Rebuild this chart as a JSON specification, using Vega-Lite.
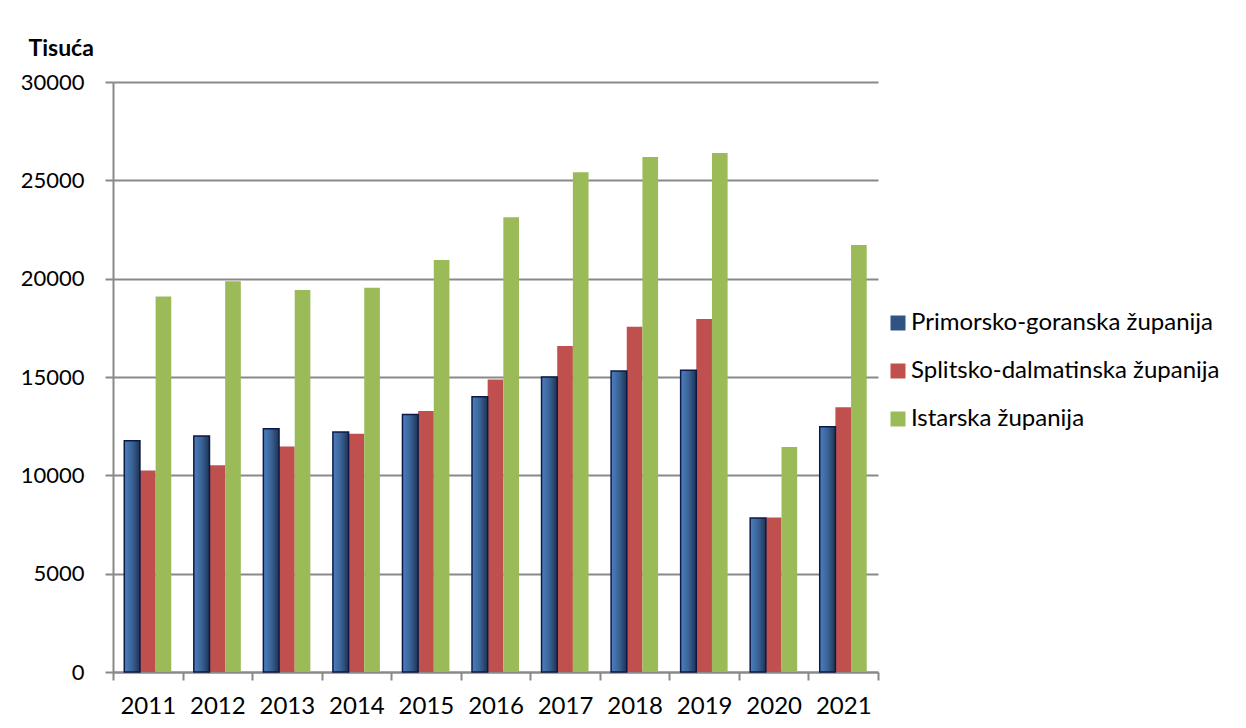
{
  "$schema": "https://vega.github.io/schema/vega-lite/v6.json",
  "autosize": {"type": "none"},
  "width": 765,
  "height": 590,
  "padding": {"left": 113, "top": 82, "right": 368, "bottom": 56},
  "background": "white",
  "config": {
    "view": {"stroke": null},
    "font": "Lato",
    "axis": {"labelFont": "Lato", "titleFont": "Lato", "labelColor": "black"}
  },
  "data": {
    "values": [
      {"year": "2011", "series": "Primorsko-goranska županija", "value": 11760},
      {"year": "2011", "series": "Splitsko-dalmatinska županija", "value": 10240},
      {"year": "2011", "series": "Istarska županija", "value": 19090},
      {"year": "2012", "series": "Primorsko-goranska županija", "value": 12000},
      {"year": "2012", "series": "Splitsko-dalmatinska županija", "value": 10510},
      {"year": "2012", "series": "Istarska županija", "value": 19870},
      {"year": "2013", "series": "Primorsko-goranska županija", "value": 12370},
      {"year": "2013", "series": "Splitsko-dalmatinska županija", "value": 11460},
      {"year": "2013", "series": "Istarska županija", "value": 19430},
      {"year": "2014", "series": "Primorsko-goranska županija", "value": 12200},
      {"year": "2014", "series": "Splitsko-dalmatinska županija", "value": 12120},
      {"year": "2014", "series": "Istarska županija", "value": 19540},
      {"year": "2015", "series": "Primorsko-goranska županija", "value": 13090},
      {"year": "2015", "series": "Splitsko-dalmatinska županija", "value": 13270},
      {"year": "2015", "series": "Istarska županija", "value": 20950},
      {"year": "2016", "series": "Primorsko-goranska županija", "value": 14000},
      {"year": "2016", "series": "Splitsko-dalmatinska županija", "value": 14870},
      {"year": "2016", "series": "Istarska županija", "value": 23120},
      {"year": "2017", "series": "Primorsko-goranska županija", "value": 15000},
      {"year": "2017", "series": "Splitsko-dalmatinska županija", "value": 16580},
      {"year": "2017", "series": "Istarska županija", "value": 25410},
      {"year": "2018", "series": "Primorsko-goranska županija", "value": 15300},
      {"year": "2018", "series": "Splitsko-dalmatinska županija", "value": 17560},
      {"year": "2018", "series": "Istarska županija", "value": 26190},
      {"year": "2019", "series": "Primorsko-goranska županija", "value": 15340},
      {"year": "2019", "series": "Splitsko-dalmatinska županija", "value": 17950},
      {"year": "2019", "series": "Istarska županija", "value": 26390},
      {"year": "2020", "series": "Primorsko-goranska županija", "value": 7830},
      {"year": "2020", "series": "Splitsko-dalmatinska županija", "value": 7850},
      {"year": "2020", "series": "Istarska županija", "value": 11440},
      {"year": "2021", "series": "Primorsko-goranska županija", "value": 12470},
      {"year": "2021", "series": "Splitsko-dalmatinska županija", "value": 13460},
      {"year": "2021", "series": "Istarska županija", "value": 21710}
    ]
  },
  "encoding": {
    "x": {
      "field": "year",
      "type": "nominal",
      "scale": {"paddingInner": 0, "paddingOuter": 0},
      "axis": {
        "title": null,
        "labelAngle": 0,
        "labelFontSize": 24,
        "labelPadding": 14,
        "tickBand": "extent",
        "tickSize": 8,
        "tickColor": "#898989",
        "tickWidth": 2,
        "domainColor": "#898989",
        "domainWidth": 2
      }
    },
    "xOffset": {
      "field": "series",
      "type": "nominal",
      "sort": ["Primorsko-goranska županija", "Splitsko-dalmatinska županija", "Istarska županija"],
      "scale": {
        "domain": ["Primorsko-goranska županija", "Splitsko-dalmatinska županija", "Istarska županija"],
        "paddingInner": 0,
        "paddingOuter": 0.72
      }
    },
    "y": {
      "field": "value",
      "type": "quantitative",
      "scale": {"domain": [0, 30000], "nice": false},
      "axis": {
        "values": [0, 5000, 10000, 15000, 20000, 25000, 30000],
        "format": "d",
        "labelFontSize": 22,
        "labelPadding": 21,
        "tickSize": 8,
        "tickColor": "#898989",
        "tickWidth": 2,
        "domainColor": "#898989",
        "domainWidth": 2,
        "grid": true,
        "gridColor": "#898989",
        "gridWidth": 2,
        "title": "Tisuća",
        "titleAngle": 0,
        "titleAlign": "left",
        "titleBaseline": "alphabetic",
        "titleFontSize": 23,
        "titleFontWeight": "bold",
        "titleX": -85,
        "titleY": -27
      }
    }
  },
  "layer": [
    {
      "mark": {"type": "bar"},
      "encoding": {
        "color": {
          "field": "series",
          "type": "nominal",
          "sort": ["Primorsko-goranska županija", "Splitsko-dalmatinska županija", "Istarska županija"],
          "scale": {
            "domain": ["Primorsko-goranska županija", "Splitsko-dalmatinska županija", "Istarska županija"],
            "range": ["#2F5483", "#C0504D", "#9BBB59"]
          },
          "legend": {
            "title": null,
            "orient": "none",
            "legendX": 773,
            "legendY": 229,
            "padding": 0,
            "symbolType": "square",
            "symbolSize": 225,
            "symbolStrokeWidth": 0,
            "labelFontSize": 24,
            "labelFont": "Lato",
            "labelColor": "black",
            "labelOffset": 1,
            "rowPadding": 24,
            "labelLimit": 400
          }
        }
      }
    },
    {
      "transform": [{"filter": "datum.series === 'Primorsko-goranska županija'"}],
      "mark": {
        "type": "bar",
        "stroke": "#0E1848",
        "strokeWidth": 1.5,
        "color": {
          "gradient": "linear",
          "x1": 0, "y1": 0, "x2": 1, "y2": 0,
          "stops": [
            {"offset": 0, "color": "#4C80BE"},
            {"offset": 0.5, "color": "#3A6397"},
            {"offset": 1, "color": "#1E3452"}
          ]
        }
      }
    }
  ]
}
